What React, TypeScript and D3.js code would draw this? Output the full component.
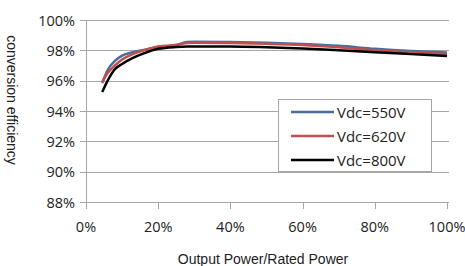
import React from 'react';
import * as d3 from 'd3';

// load ratio (% of rated power)
const loadPct = [4.5, 6, 8, 10, 13, 16, 20, 25, 28, 30, 40, 50, 60, 70, 80, 90, 100];
const eff550 = [95.85, 96.7, 97.3, 97.65, 97.88, 98.02, 98.22, 98.35, 98.55, 98.57, 98.55, 98.5, 98.42, 98.3, 98.1, 97.95, 97.85];
const eff620 = [95.9, 96.5, 97.0, 97.4, 97.75, 98.0, 98.25, 98.35, 98.48, 98.5, 98.48, 98.43, 98.35, 98.2, 98.0, 97.87, 97.76];
const eff800 = [95.25, 96.0, 96.75, 97.1, 97.5, 97.8, 98.1, 98.22, 98.25, 98.25, 98.25, 98.2, 98.12, 98.0, 97.87, 97.75, 97.63];

const seriesNames = ['Vdc=550V', 'Vdc=620V', 'Vdc=800V'];
const seriesColors = ['#4a6e9c', '#c0504d', '#000000'];
const yTicks = [88, 90, 92, 94, 96, 98, 100];
const xTicks = [0, 20, 40, 60, 80, 100];

const W = 465;
const H = 266;
const tickFont = '"Open Sans", sans-serif';
const titleFont = '"Liberation Sans", Arial, sans-serif';

export default function App() {
  const x = d3.scaleLinear().domain([0, 100]).range([86, 447]);
  const y = d3.scaleLinear().domain([88, 100]).range([202, 20]);

  const series = [eff550, eff620, eff800].map((vals, i) => ({
    name: seriesNames[i],
    color: seriesColors[i],
    points: loadPct.map((p, j) => [p, vals[j]] as [number, number]),
  }));

  const line = d3
    .line<[number, number]>()
    .x(d => x(d[0]))
    .y(d => y(d[1]))
    .curve(d3.curveMonotoneX);

  const gridColor = '#a6a6a6';

  return (
    <svg
      width={W}
      height={H}
      style={{ position: 'absolute', left: 0, top: 0, background: '#fff' }}
    >
      {/* horizontal grid + y ticks */}
      {yTicks.map(t => (
        <line
          key={'g' + t}
          x1={80}
          x2={449}
          y1={Math.round(y(t)) + 0.5}
          y2={Math.round(y(t)) + 0.5}
          stroke={gridColor}
          strokeWidth={1}
        />
      ))}
      {/* y axis */}
      <line x1={86.5} x2={86.5} y1={y(100)} y2={y(88) + 7} stroke={gridColor} />
      {/* x ticks */}
      {xTicks.map(t => (
        <line
          key={'xt' + t}
          x1={Math.round(x(t)) + 0.5}
          x2={Math.round(x(t)) + 0.5}
          y1={y(88)}
          y2={y(88) + 7}
          stroke={gridColor}
        />
      ))}
      {yTicks.map(t => (
        <text
          key={'yl' + t}
          x={75}
          y={y(t)}
          textAnchor="end"
          dominantBaseline="central"
          fontFamily={tickFont}
          fontSize={14.5}
          fill="#222"
        >
          {t}%
        </text>
      ))}
      {xTicks.map(t => (
        <text
          key={'xl' + t}
          x={x(t)}
          y={226}
          textAnchor="middle"
          dominantBaseline="central"
          fontFamily={tickFont}
          fontSize={14.5}
          fill="#222"
        >
          {t}%
        </text>
      ))}

      {/* series */}
      {series.map(s => (
        <path
          key={s.name}
          d={line(s.points) || ''}
          fill="none"
          stroke={s.color}
          strokeWidth={2.5}
        />
      ))}

      {/* legend */}
      <rect x={278.5} y={99.5} width={153} height={72} fill="#fff" stroke={gridColor} />
      {series.map((s, i) => (
        <g key={'lg' + s.name} transform={`translate(0, ${112 + i * 24})`}>
          <line x1={291} x2={334} y1={0} y2={0} stroke={s.color} strokeWidth={2.5} />
          <text
            x={337}
            y={0}
            dominantBaseline="central"
            fontFamily={tickFont}
            fontSize={15}
            fill="#222"
          >
            {s.name}
          </text>
        </g>
      ))}

      {/* axis titles */}
      <text
        x={263}
        y={264}
        textAnchor="middle"
        fontFamily={titleFont}
        fontSize={14}
        fill="#222"
      >
        Output Power/Rated Power
      </text>
      <text
        transform={`translate(12, 100) rotate(90)`}
        textAnchor="middle"
        dominantBaseline="central"
        fontFamily={titleFont}
        fontSize={14}
        fill="#222"
      >
        conversion efficiency
      </text>
    </svg>
  );
}
